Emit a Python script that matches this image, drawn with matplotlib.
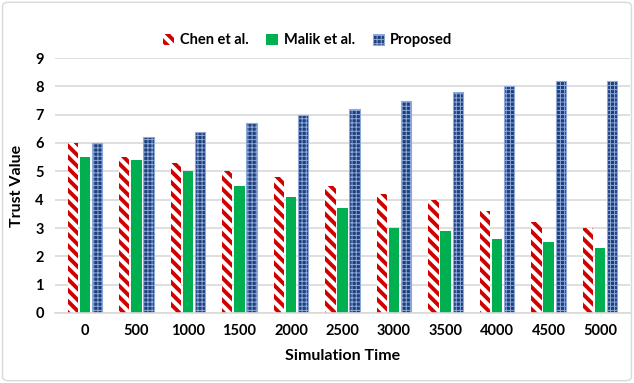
import matplotlib
matplotlib.use("Agg")
import matplotlib.pyplot as plt
import numpy as np
from matplotlib.patches import FancyBboxPatch

times = ["0", "500", "1000", "1500", "2000", "2500", "3000", "3500", "4000", "4500", "5000"]
chen = [6.0, 5.5, 5.3, 5.0, 4.8, 4.5, 4.2, 4.0, 3.6, 3.2, 3.0]
malik = [5.5, 5.4, 5.0, 4.5, 4.1, 3.7, 3.0, 2.9, 2.6, 2.5, 2.3]
proposed = [6.0, 6.2, 6.4, 6.7, 7.0, 7.2, 7.5, 7.8, 8.0, 8.2, 8.2]

plt.rcParams['font.family'] = ['Lato', 'DejaVu Sans']
plt.rcParams['font.weight'] = 'bold'

fig = plt.figure(figsize=(6.34, 3.83), dpi=100)
ax = fig.add_axes([55/634, 70/383, 575/634, 255/383])

x = np.arange(len(times))
w = 0.2
gap = 0.035

with plt.rc_context({'hatch.linewidth': 2.8}):
    ax.bar(x - w - gap, chen, w, color="white", edgecolor="#D00000", hatch="\\\\\\",
           linewidth=0, label="Chen et al.")
ax.bar(x, malik, w, color="#00B050", edgecolor="#00B050", linewidth=0, label="Malik et al.")
with plt.rc_context({'hatch.linewidth': 0.7}):
    ax.bar(x + w + gap, proposed, w, color="#1F3F7A", edgecolor="#8EA9DB", hatch="++++",
           linewidth=0.8, label="Proposed")

ax.set_xlim(-0.58, 10.58)
ax.set_ylim(0, 9)
ax.set_yticks(range(10))
ax.set_xticks(x)
ax.set_xticklabels(times)
ax.tick_params(axis="both", length=0, labelsize=10.5, pad=8)
ax.yaxis.grid(True, color="#D9D9D9", linewidth=1.2)
ax.set_axisbelow(True)
for s in ["top", "right", "left"]:
    ax.spines[s].set_visible(False)
ax.spines["bottom"].set_color("#D9D9D9")
ax.spines["bottom"].set_linewidth(1.2)

ax.set_xlabel("Simulation Time", fontsize=11.5, fontweight="bold", labelpad=8)
ax.set_ylabel("Trust Value", fontsize=11.5, fontweight="bold", labelpad=8)

leg = fig.legend(loc="center", bbox_to_anchor=(0.485, 0.895), ncol=3, frameon=False,
                 fontsize=10.5, handlelength=0.8, handleheight=0.8, columnspacing=1.2,
                 handletextpad=0.4)
# legend swatches take hatch width from rcParams, so set them by hand
for patch, hlw in zip(leg.get_patches(), [2.8, 1.0, 0.7]):
    patch._hatch_linewidth = hlw

border = FancyBboxPatch((0.004, 0.006), 0.992, 0.988, boxstyle="round,pad=0,rounding_size=0.01",
                        transform=fig.transFigure, facecolor="none", edgecolor="#D9D9D9", linewidth=1)
fig.patches.append(border)

fig.savefig("out.png", dpi=100)
